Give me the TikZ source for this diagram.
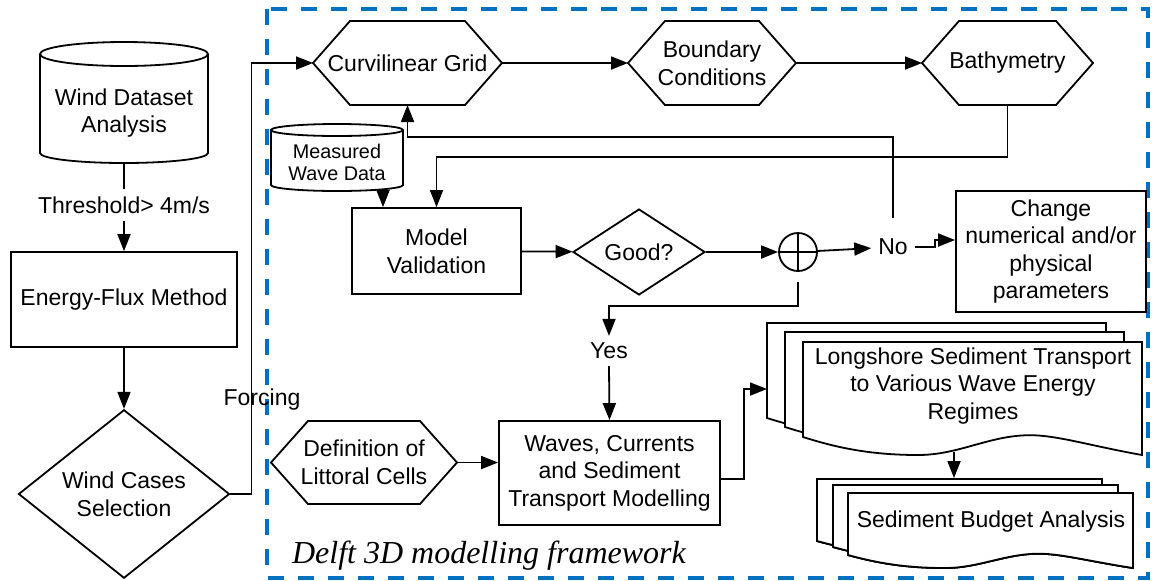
\documentclass[tikz,border=0pt]{standalone}
\usepackage{fontspec}
\setmainfont{Liberation Sans}
\newfontfamily\delftfont{Liberation Serif}
\usepackage{tikz}
\usetikzlibrary{arrows.meta, shapes.geometric}
\definecolor{dblue}{RGB}{0,112,192}

% one page of a document stack: left, top, right, bottom-left, wave depth
\newcommand{\docpage}[5]{%
  \draw[link, fill=white] ({#1},{#2}) -- ({#3},{#2}) -- ({#3},{(#4)+(#5)})
    .. controls ({(#1)+0.85*((#3)-(#1))},{(#4)+0.5*(#5)}) and ({(#1)+0.75*((#3)-(#1))},{(#4)-0.1*(#5)}) .. ({(#1)+0.67*((#3)-(#1))},{(#4)-0.1*(#5)})
    .. controls ({(#1)+0.55*((#3)-(#1))},{(#4)-0.1*(#5)}) and ({(#1)+0.46*((#3)-(#1))},{(#4)+(#5)}) .. ({(#1)+0.34*((#3)-(#1))},{(#4)+(#5)})
    .. controls ({(#1)+0.2*((#3)-(#1))},{(#4)+(#5)}) and ({(#1)+0.1*((#3)-(#1))},{(#4)+0.6*(#5)}) .. ({#1},{#4}) -- cycle;}

\begin{document}
\begin{tikzpicture}[
			x=0.5pt, y=-0.5pt,
			every node/.style={align=center, font=\fontsize{11.5}{13.8}\selectfont},
			proc/.style={draw, line width=0.9pt, inner sep=2pt},
			hexa/.style={inner sep=2pt, outer sep=0pt, minimum height=42pt},
			decision/.style={diamond, draw, line width=0.9pt, inner sep=0pt},
			link/.style={line width=0.9pt},
			arr/.style={link, -{Triangle[length=8.5pt, width=6.5pt]}},
			frame/.style={draw=dblue, line width=1.6pt, dash pattern=on 8pt off 7pt}
			]
			\useasboundingbox (0,0) rectangle (1153,580);
			\draw[frame] (267,9) rectangle (1148,578);
			
			% wind data side
			\draw[link] (40,54) -- (40,153) arc[start angle=180, end angle=360, x radius=42pt, y radius=5pt] -- (208,54);
			\draw[link] (124,54) ellipse [x radius=42pt, y radius=6pt];
			\coordinate (windbot) at (124,164);
			\node (wind) at (124,113) {Wind Dataset\\Analysis};
			\node (thr) at (124,205) {Threshold> 4m/s};
			\node[proc, minimum width=113pt, minimum height=47.5pt] (energy) at (124,299.5) {Energy-Flux Method};
			\node[decision, minimum width=105.5pt, minimum height=74pt] (cases) at (124,494) {Wind Cases\\Selection};
			\node (forcing) at (262,400) {Forcing};
			
			% Delft 3D part
			\node[hexa, minimum width=94.5pt] (grid) at (407.5,63) {Curvilinear Grid};
			\node[hexa, minimum width=84pt] (bc) at (712,63) {Boundary\\Conditions};
			\node[hexa, minimum width=85.5pt] (bathy) at (1007.5,63) {Bathymetry};
			\node[hexa, minimum width=93pt, minimum height=41.5pt] (cells) at (364,462.5) {Definition of\\Littoral Cells};
			\foreach \n in {grid,bc,bathy,cells}
				\draw[link] (\n.west) -- ([xshift=18.5pt]\n.north west) -- ([xshift=-18.5pt]\n.north east) -- (\n.east)
					-- ([xshift=-18.5pt]\n.south east) -- ([xshift=18.5pt]\n.south west) -- cycle;
			
			\draw[link] (271,130) -- (271,185) arc[start angle=180, end angle=360, x radius=33pt, y radius=3pt] -- (403,130);
			\draw[link] (337,130) ellipse [x radius=33pt, y radius=3pt];
			\coordinate (mwdbot) at (383,191);
			\node[font=\fontsize{9.9}{11}\selectfont] (mwd) at (337,162) {Measured\\Wave Data};
			
			\node[proc, minimum width=84.5pt, minimum height=43pt] (valid) at (436.5,251) {Model\\Validation};
			\node[decision, minimum width=66pt, minimum height=34.5pt] (good) at (639,252) {Good?};
			\node[circle, draw, line width=0.9pt, minimum size=19pt, inner sep=0pt] (plus) at (798,252) {};
			\draw[link] (plus.north) -- (plus.south) (plus.west) -- (plus.east);
			\node (no) at (893,247) {No};
			\node[proc, minimum width=95pt, minimum height=60.5pt] (change) at (1051,251.5) {Change\\numerical and/or\\physical\\parameters};
			\node (yes) at (609,351) {Yes};
			\node[proc, minimum width=110.5pt, minimum height=52pt] (waves) at (609.5,473) {Waves, Currents\\and Sediment\\Transport Modelling};
			
			% outputs
			\foreach \dx/\dy in {-36/-19,-18/-10,0/0}
				\docpage{803+\dx}{342+\dy}{1142+\dx}{437+\dy}{18}
			\foreach \dx/\dy in {-31/-14,-15/-8,0/0}
				\docpage{848+\dx}{493+\dy}{1133+\dx}{555+\dy}{13}
			\coordinate (lsin) at (767,389);
			\coordinate (lstbot) at (954,452);
			\node (lst) at (973,386) {Longshore Sediment Transport\\to Various Wave Energy\\Regimes};
			\node (sba) at (991,522) {Sediment Budget Analysis};
			
			\node[anchor=base west, font={\fontsize{16}{19}\delftfont\itshape}] (title) at (285,563) {Delft 3D modelling framework};
			
			% connectors
			\draw[link] (windbot) -- (thr);
			\draw[arr] (thr) -- (energy);
			\draw[arr] (energy) -- (cases);
			\draw[arr] (cases.east) -- ++(21,0) |- (grid.west);
			\draw[arr] (grid) -- (bc);
			\draw[arr] (bc) -- (bathy);
			\draw[arr] (bathy.south) -- ++(0,52) -| (valid.north);
			\draw[arr] (mwdbot) -- (mwdbot |- valid.north);
			\draw[arr] (valid) -- (good);
			\draw[arr] (good) -- (plus);
			\draw[arr] (plus) -- (no);
			\draw[arr] ([yshift=7pt]no.north) -- ++(0,-81) -| (grid.south);
			\draw[arr] (no.east) -- ++(20,0) |- ([yshift=5.75pt]change.west);
			\draw[arr] ([yshift=-5pt]plus.south) -- ++(0,24) -| (yes.north);
			\draw[arr] (yes.south) -- (waves.north);
			\draw[arr] (cells.east) -- (cells.east -| waves.west);
			\draw[arr] ([yshift=-3pt]waves.east) -- ++(23,0) |- (lsin);
			\draw[arr] (lstbot) -- ++(0,26);
		\end{tikzpicture}
\end{document}
